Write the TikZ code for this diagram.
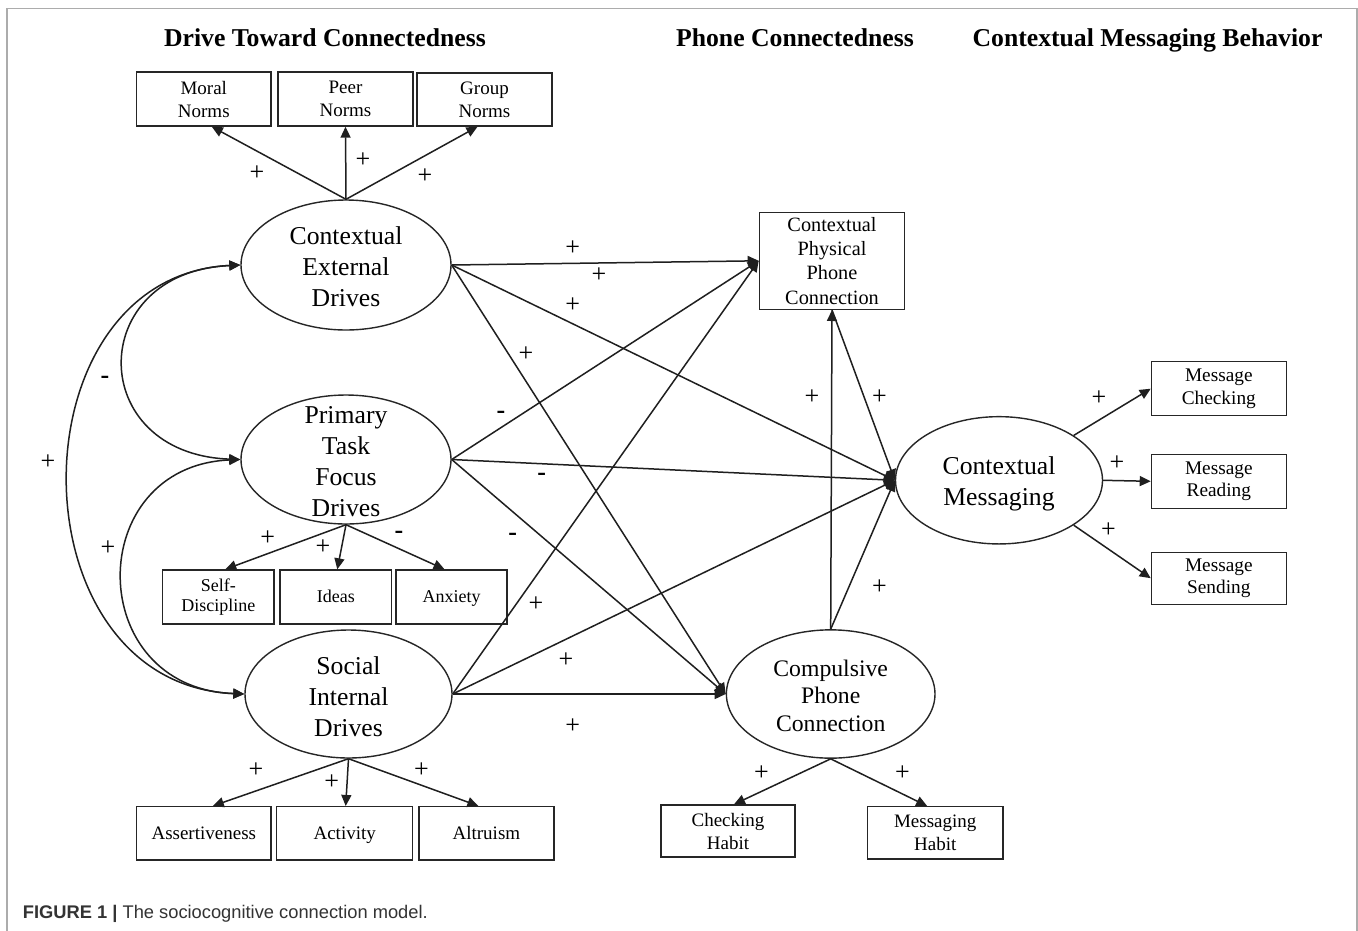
\documentclass[tikz,border=0pt]{standalone}
\usepackage{fontspec}
\setmainfont{Liberation Serif}
\setsansfont{Liberation Sans}
\usetikzlibrary{arrows.meta,shapes.geometric}

\begin{document}
\begin{tikzpicture}[x=1pt,y=-1pt,
  ln/.style={line width=1.5pt, draw=black!88},
  arr/.style={ln, -{Triangle[length=11pt,width=10pt]}},
  dbl/.style={ln, {Triangle[length=11pt,width=10pt]}-{Triangle[length=11pt,width=10pt]}},
  ellnode/.style={ellipse, draw=black!85, line width=1.4pt, inner sep=0pt},
  box/.style={rectangle, draw=black!85, line width=1.4pt, inner sep=0pt, align=center},
  onesmall/.style={text height=14pt, text depth=4pt},
  onenorm/.style={text height=15pt, text depth=2pt},
  bigtxt/.style={align=center, inner sep=0pt, font=\fontsize{25.7}{31}\selectfont},
  normtxt/.style={font=\fontsize{19}{23}\selectfont},
  smalltxt/.style={font=\fontsize{18}{20}\selectfont},
  msgtxt/.style={font=\fontsize{19.3}{22.7}\selectfont},
  sign/.style={inner sep=0pt, font=\fontsize{26}{26}\selectfont},
  minus/.style={inner sep=0pt, font=\bfseries\fontsize{26}{26}\selectfont},
  heading/.style={inner sep=0pt, anchor=base, font=\bfseries\fontsize{25.7}{30}\selectfont}
]
\useasboundingbox (0,0) rectangle (1358,930);
\fill[white] (0,0) rectangle (1358,930);
% page frame
\draw[gray!65, line width=1.5pt] (7,931) -- (7,8.3) -- (1357,8.3) -- (1357,931);

% column headings
\node[heading] (h1) at (325,46.7) {Drive Toward Connectedness};
\node[heading] (h2) at (795,46.7) {Phone Connectedness};
\node[heading] (h3) at (1147.5,46.7) {Contextual Messaging Behavior};

% latent drives
\node[ellnode, minimum width=210pt, minimum height=130pt] (ced) at (346,265) {};
\node[bigtxt] (cedtxt) at (346,266.3) {Contextual\\External\\Drives};
\node[ellnode, minimum width=210pt, minimum height=129pt] (ptfd) at (346,459.5) {};
\node[bigtxt] (ptfdtxt) at (346,461.3) {Primary\\Task\\Focus\\Drives};
\node[ellnode, minimum width=207pt, minimum height=128pt] (sid) at (348.5,694) {};
\node[bigtxt] (sidtxt) at (348.5,696.3) {Social\\Internal\\Drives};

% phone connectedness
\node[box, minimum width=145.2pt, minimum height=97pt, font=\fontsize{20.3}{24.4}\selectfont] (cppc) at (832,260.8) {Contextual\\Physical\\Phone\\Connection};
\node[ellnode, minimum width=208.6pt, minimum height=128.3pt] (cpc) at (830.7,694) {};
\node[align=center, inner sep=0pt, font=\fontsize{23.7}{27.8}\selectfont] (cpctxt) at (830.7,695.8) {Compulsive\\Phone\\Connection};

% messaging behaviour
\node[ellnode, minimum width=207pt, minimum height=127.3pt] (cm) at (999,480.3) {};
\node[bigtxt] (cmtxt) at (999,483.5) {Contextual\\Messaging};

% indicator boxes
\node[box, normtxt, minimum width=134.4pt, minimum height=54pt] (moral) at (203.8,99) {Moral\\Norms};
\node[box, normtxt, minimum width=135pt, minimum height=54pt] (peer) at (345.5,99) {Peer\\Norms};
\node[box, normtxt, minimum width=135pt, minimum height=53pt] (group) at (484.5,99.5) {Group\\Norms};

\node[box, smalltxt, minimum width=111.4pt, minimum height=54pt] (selfd) at (218.3,597) {Self-\\Discipline};
\node[box, smalltxt, onesmall, minimum width=111.6pt, minimum height=54pt] (ideas) at (335.8,597) {Ideas};
\node[box, smalltxt, onesmall, minimum width=111pt, minimum height=54pt] (anx) at (451.5,597) {Anxiety};

\node[box, normtxt, onenorm, minimum width=134.4pt, minimum height=53.3pt] (assert) at (203.8,833.3) {Assertiveness};
\node[box, normtxt, onenorm, minimum width=136pt, minimum height=53.3pt] (activ) at (344.7,833.3) {Activity};
\node[box, normtxt, onenorm, minimum width=134.8pt, minimum height=53.3pt] (altru) at (486.4,833.3) {Altruism};

\node[box, normtxt, minimum width=134pt, minimum height=52pt] (chkhab) at (728,831) {Checking\\Habit};
\node[box, normtxt, minimum width=135.7pt, minimum height=52.3pt] (msghab) at (935.2,832.9) {Messaging\\Habit};

\node[box, msgtxt, minimum width=134.8pt, minimum height=54pt] (mchk) at (1218.8,388.7) {Message\\Checking};
\node[box, msgtxt, minimum width=134.8pt, minimum height=54pt] (mread) at (1218.8,481.3) {Message\\Reading};
\node[box, msgtxt, minimum width=134.8pt, minimum height=52pt] (msend) at (1218.8,578.2) {Message\\Sending};

% loadings
\draw[arr] (ced.north) -- ([xshift=8pt]moral.south);
\draw[arr] (ced.north) -- (peer.south);
\draw[arr] (ced.north) -- ([xshift=-7pt]group.south);
\draw[arr] (ptfd.south) -- ([xshift=7pt]selfd.north);
\draw[arr] (ptfd.south) -- ([xshift=1.5pt]ideas.north);
\draw[arr] (ptfd.south) -- ([xshift=-7pt]anx.north);
\draw[arr] (sid.south) -- ([xshift=9pt]assert.north);
\draw[arr] (sid.south) -- ([xshift=1pt]activ.north);
\draw[arr] (sid.south) -- ([xshift=-8pt]altru.north);
\draw[arr] (cpc.south) -- ([xshift=6pt]chkhab.north);
\draw[arr] (cpc.south) -- ([xshift=-8pt]msghab.north);
\draw[arr] (cm.31) -- (mchk.west);
\draw[arr] (cm.east) -- (mread.west);
\draw[arr] (cm.-31) -- (msend.west);

% structural paths
\draw[arr] (ced.east) -- (cppc.west);
\draw[arr] (ced.east) -- (cm.west);
\draw[arr] (ced.east) -- (cpc.west);
\draw[arr] (ptfd.east) -- (cppc.west);
\draw[arr] (ptfd.east) -- (cm.west);
\draw[arr] (ptfd.east) -- (cpc.west);
\draw[arr] (sid.east) -- (cppc.west);
\draw[arr] (sid.east) -- (cm.west);
\draw[arr] (sid.east) -- (cpc.west);
\draw[arr] (cpc.north) -- (cppc.south);
\draw[arr] (cppc.south) -- (cm.west);
\draw[arr] (cpc.north) -- (cm.west);

% covariances among the drives
\draw[dbl] (ced.west) .. controls (11,276) and (11,684) .. (sid.west);
\draw[dbl] (ced.west) .. controls (85,272) and (85,454) .. (ptfd.west);
\draw[dbl] (ptfd.west) .. controls (83,466) and (83,688) .. (sid.west);

% signs
\node[sign] (s1) at (257,173) {+};
\node[sign] (s2) at (363,160) {+};
\node[sign] (s3) at (425,176) {+};
\node[minus] (s4) at (105,380) {-};
\node[sign] (s5) at (48,462) {+};
\node[sign] (s6) at (108,548) {+};
\node[sign] (s7) at (267.6,538) {+};
\node[sign] (s8) at (323,546.7) {+};
\node[minus] (s9) at (399,535) {-};
\node[sign] (s10) at (256,770) {+};
\node[sign] (s11) at (331.7,781.7) {+};
\node[sign] (s12) at (421.5,770) {+};
\node[sign] (s13) at (572.7,248.3) {+};
\node[sign] (s14) at (599,275) {+};
\node[sign] (s15) at (572.7,305) {+};
\node[sign] (s16) at (526,354) {+};
\node[minus] (s17) at (501,414.5) {-};
\node[minus] (s18) at (541.7,477) {-};
\node[minus] (s19) at (512.7,536.5) {-};
\node[sign] (s20) at (536,604.3) {+};
\node[sign] (s21) at (566,660) {+};
\node[sign] (s22) at (572.7,726) {+};
\node[sign] (s23) at (812,396.7) {+};
\node[sign] (s24) at (879.5,396.7) {+};
\node[sign] (s25) at (879.5,586.7) {+};
\node[sign] (s26) at (1099,397.7) {+};
\node[sign] (s27) at (1117,462.7) {+};
\node[sign] (s28) at (1108.5,530) {+};
\node[sign] (s29) at (761.5,773.3) {+};
\node[sign] (s30) at (902.5,773.3) {+};

% caption
\node[anchor=base west, inner sep=0pt, text=black!80, font=\sffamily\fontsize{18.3}{20}\selectfont] (caption) at (22.7,918.3) {\textbf{FIGURE 1} \textbf{|} The sociocognitive connection model.};
\end{tikzpicture}
\end{document}
